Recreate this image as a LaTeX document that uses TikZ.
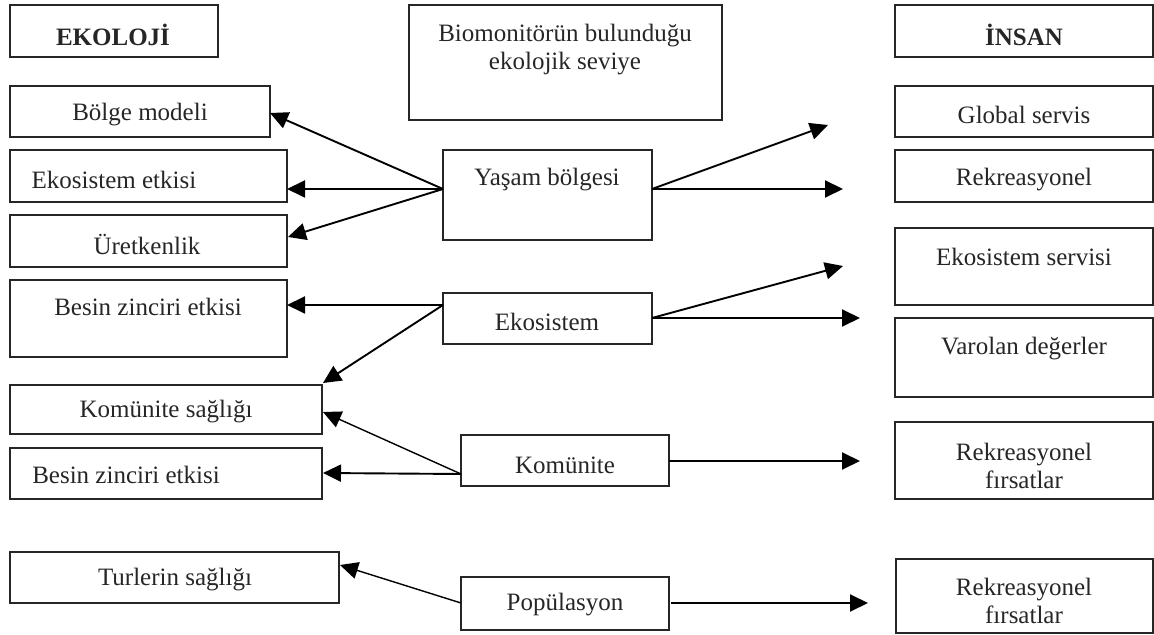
\documentclass[tikz,border=0pt]{standalone}
\usepackage{fontspec}
\setmainfont{Liberation Serif}
\usetikzlibrary{arrows.meta}
\tikzset{
  box/.style={draw=black!85, line width=0.9pt, inner sep=0pt, anchor=center},
  txt/.style={inner sep=0pt, align=center, yshift=-1pt, font=\fontsize{12.5}{14}\selectfont, text=black!85},
  hdr/.style={txt, font=\fontsize{12.5}{14}\selectfont\bfseries},
  arr/.style={line width=0.95pt, -{Triangle[length=9pt,width=8.5pt]}},
  arrthin/.style={line width=0.7pt, -{Triangle[length=9pt,width=8.5pt]}}
}
\begin{document}
\begin{tikzpicture}[x=0.5pt,y=-0.5pt]
\useasboundingbox (0,0) rectangle (1154,635);
% ---- left column
\node[box, minimum width=104pt, minimum height=26pt] (ekoloji) at (114,31) {};
\node[hdr] (tekoloji) at (113,33) {EKOLOJİ};
\node[box, minimum width=130pt, minimum height=25.5pt] (bolge) at (140,111.5) {};
\node[txt] (tbolge) at (140,113) {Bölge modeli};
\node[box, minimum width=138.5pt, minimum height=26pt] (ekoetki) at (148.5,176) {};
\node[txt] (tekoetki) at (114,178) {Ekosistem etkisi};
\node[box, minimum width=138.5pt, minimum height=26pt] (uretken) at (148.5,241) {};
\node[txt] (turetken) at (147,242) {Üretkenlik};
\node[box, minimum width=138.5pt, minimum height=38.5pt] (besin1) at (148.5,318.5) {};
\node[txt] (tbesin1) at (148,305) {Besin zinciri etkisi};
\node[box, minimum width=156pt, minimum height=24.5pt] (komsag) at (166,409.5) {};
\node[txt] (tkomsag) at (166,410) {Komünite sağlığı};
\node[box, minimum width=156pt, minimum height=25.5pt] (besin2) at (166,473.5) {};
\node[txt] (tbesin2) at (126,473) {Besin zinciri etkisi};
\node[box, minimum width=164.5pt, minimum height=25.5pt] (turler) at (174.5,577.5) {};
\node[txt] (tturler) at (175,578) {Turlerin sağlığı};
% ---- center column
\node[box, minimum width=156.5pt, minimum height=57.5pt] (biomon) at (565.5,62.5) {};
\node[txt] (tbiomon) at (565,48) {Biomonitörün bulunduğu\\ekolojik seviye};
\node[box, minimum width=104.5pt, minimum height=45pt] (yasam) at (547.5,195) {};
\node[txt] (tyasam) at (547,178) {Yaşam bölgesi};
\node[box, minimum width=104.5pt, minimum height=25.5pt] (ekosis) at (547.5,318.5) {};
\node[txt] (tekosis) at (547,320) {Ekosistem};
\node[box, minimum width=104pt, minimum height=25.5pt] (komunite) at (565,460.5) {};
\node[txt] (tkomunite) at (565,463) {Komünite};
\node[box, minimum width=104pt, minimum height=26.5pt] (popul) at (565,603.5) {};
\node[txt] (tpopul) at (565,603) {Popülasyon};
% ---- right column
\node[box, minimum width=129pt, minimum height=26pt] (insan) at (1024,31) {};
\node[hdr] (tinsan) at (1024,33) {İNSAN};
\node[box, minimum width=129pt, minimum height=25.5pt] (global) at (1024,111.5) {};
\node[txt] (tglobal) at (1024,113) {Global servis};
\node[box, minimum width=129pt, minimum height=26pt] (rekre) at (1024,176) {};
\node[txt] (trekre) at (1024,178) {Rekreasyonel};
\node[box, minimum width=129pt, minimum height=38.5pt] (ekoserv) at (1024,266.5) {};
\node[txt] (tekoserv) at (1024,255) {Ekosistem servisi};
\node[box, minimum width=129pt, minimum height=39.5pt] (varolan) at (1024,357.5) {};
\node[txt] (tvarolan) at (1024,347) {Varolan değerler};
\node[box, minimum width=129pt, minimum height=38.5pt] (rekfir1) at (1024,460.5) {};
\node[txt] (trekfir1) at (1024,463.5) {Rekreasyonel\\fırsatlar};
\node[box, minimum width=128.5pt, minimum height=37pt] (rekfir2) at (1024.5,596) {};
\node[txt] (trekfir2) at (1024,599) {Rekreasyonel\\fırsatlar};
% ---- connector points
\coordinate (yL) at (443,189);
\coordinate (yR) at (652,189);
\coordinate (eL) at (443,305);
\coordinate (eR) at (652,318);
\coordinate (kL) at (461,474);
\coordinate (kR) at (669,461);
\coordinate (pL) at (461,603);
\coordinate (pR) at (671,603);
\coordinate (tBolge) at (270,113);
\coordinate (tEkoetki) at (287,189);
\coordinate (tUretken) at (288,237);
\coordinate (tBesin1) at (287,305);
\coordinate (tKomsagA) at (323,383);
\coordinate (tKomsagB) at (323,412);
\coordinate (tBesin2) at (323,473);
\coordinate (tTurler) at (340,565);
\coordinate (fGlobal) at (828,125);
\coordinate (fRekre) at (843,189);
\coordinate (fEkoserv) at (843,266);
\coordinate (fVarolan) at (860,318);
\coordinate (fRekfir1) at (860,461);
\coordinate (fRekfir2) at (868,603);
% ---- arrows
\draw[arr] (yL) -- (tBolge);
\draw[arr] (yL) -- (tEkoetki);
\draw[arr] (yL) -- (tUretken);
\draw[arr] (yR) -- (fGlobal);
\draw[arr] (yR) -- (fRekre);
\draw[arr] (eL) -- (tBesin1);
\draw[arr] (eL) -- (tKomsagA);
\draw[arr] (eR) -- (fEkoserv);
\draw[arr] (eR) -- (fVarolan);
\draw[arrthin] (kL) -- (tKomsagB);
\draw[arr] (kL) -- (tBesin2);
\draw[arr] (kR) -- (fRekfir1);
\draw[arrthin] (pL) -- (tTurler);
\draw[arr] (pR) -- (fRekfir2);
\end{tikzpicture}
\end{document}
